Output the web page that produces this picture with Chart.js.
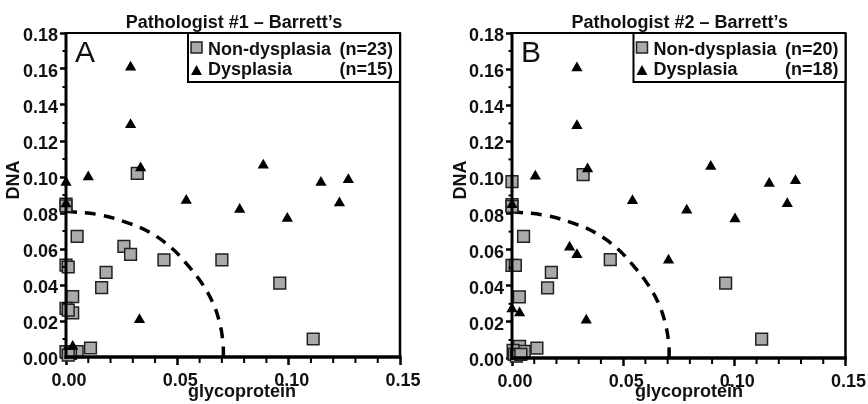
<!DOCTYPE html>
<html><head><meta charset="utf-8">
<script src="https://cdn.jsdelivr.net/npm/chart.js@4.4.1/dist/chart.umd.min.js"></script>
<style>
html,body{margin:0;padding:0;background:#fff;}
#wrap{position:relative;width:868px;height:404px;background:#fff;}
canvas{position:absolute;top:0;}
#cA{left:0;} #cB{left:434px;}
</style></head><body>
<div id="wrap"><canvas id="cA" width="434" height="404"></canvas><canvas id="cB" width="434" height="404"></canvas></div>
<script>
// ---- tick labels ----
const xTickValues = [0, 0.05, 0.10, 0.15];
const yTickValues = [0, 0.02, 0.04, 0.06, 0.08, 0.10, 0.12, 0.14, 0.16, 0.18];
const xMinorTicks = [0.01, 0.02, 0.03, 0.04, 0.06, 0.07, 0.08, 0.09, 0.11, 0.12, 0.13, 0.14];
const yMinorTicks = [0.01, 0.03, 0.05, 0.07, 0.09, 0.11, 0.13, 0.15, 0.17];

// ---- text ----
const titleA = "Pathologist #1 – Barrett’s";
const titleB = "Pathologist #2 – Barrett’s";
const xAxisTitle = "glycoprotein";
const yAxisTitle = "DNA";
const seriesNames = ["Non-dysplasia", "Dysplasia"];
const countsA = ["(n=23)", "(n=15)"];
const countsB = ["(n=20)", "(n=18)"];

// ---- Panel A data ----
const nonDysA_x = [0.000, 0.032, 0.005, 0.026, 0.029, 0.044, 0.070, 0.000, 0.018, 0.016, 0.096, 0.003, 0.000, 0.003, 0.111, 0.011, 0.000, 0.005, 0.001, 0.002, 0.001, 0.001, 0.000];
const nonDysA_y = [0.085, 0.102, 0.067, 0.0615, 0.057, 0.054, 0.054, 0.051, 0.047, 0.0385, 0.041, 0.0335, 0.027, 0.0245, 0.010, 0.005, 0.003, 0.003, 0.050, 0.002, 0.026, 0.001, 0.084];
const dysA_x = [0.029, 0.029, 0.0335, 0.010, 0.000, 0.000, 0.054, 0.078, 0.0886, 0.0994, 0.1145, 0.1268, 0.1228, 0.033, 0.003];
const dysA_y = [0.161, 0.129, 0.105, 0.100, 0.097, 0.085, 0.087, 0.082, 0.1065, 0.077, 0.097, 0.0985, 0.0856, 0.0207, 0.0059];

// ---- Panel B data ----
const nonDysB_x = [0.000, 0.000, 0.032, 0.0052, 0.0442, 0.000, 0.0015, 0.0177, 0.016, 0.0961, 0.0033, 0.1123, 0.0034, 0.0112, 0.0055, 0.0005, 0.001, 0.002, 0.000, 0.004];
const nonDysB_y = [0.0977, 0.085, 0.1015, 0.0674, 0.0545, 0.0513, 0.0513, 0.0474, 0.0388, 0.0415, 0.0338, 0.0105, 0.0065, 0.0055, 0.0037, 0.0042, 0.002, 0.001, 0.084, 0.002];
const dysB_x = [0.0292, 0.0292, 0.034, 0.0105, 0.000, 0.0542, 0.0786, 0.0894, 0.1003, 0.1157, 0.1275, 0.1238, 0.0259, 0.0292, 0.0704, 0.0334, 0.000, 0.0034];
const dysB_y = [0.1606, 0.1287, 0.1047, 0.1006, 0.0849, 0.0871, 0.0818, 0.1061, 0.077, 0.0967, 0.0982, 0.0855, 0.0613, 0.0572, 0.0541, 0.0209, 0.0271, 0.0249];

// ---- dashed boundary ----
const boundary_x = [0.000, 0.015, 0.029, 0.038, 0.047, 0.054, 0.061, 0.066, 0.069, 0.0705, 0.0707];
const boundary_y = [0.081, 0.079, 0.074, 0.069, 0.061, 0.052, 0.041, 0.030, 0.019, 0.008, 0.000];

const FONT = "'Liberation Sans', Arial, Helvetica, sans-serif";
const zip = (xs, ys) => xs.map((x, i) => ({x: x, y: ys[i]}));

function makePanel(canvasId, p) {
  const overlay = {
    id: 'overlay' + canvasId,
    afterDraw(chart) {
      const ctx = chart.ctx, a = chart.chartArea;
      const xs = chart.scales.x, ys = chart.scales.y;
      ctx.save();
      ctx.strokeStyle = '#000';
      // minor ticks
      ctx.lineWidth = 2;
      yMinorTicks.forEach(v => {
        const py = ys.getPixelForValue(v);
        ctx.beginPath(); ctx.moveTo(a.left - 3.5, py); ctx.lineTo(a.left, py); ctx.stroke();
      });
      xMinorTicks.forEach(v => {
        const px = xs.getPixelForValue(v);
        ctx.beginPath(); ctx.moveTo(px, a.bottom); ctx.lineTo(px, a.bottom + 6); ctx.stroke();
      });
      // frame
      ctx.lineWidth = 3;
      ctx.beginPath(); ctx.moveTo(a.left, a.top - 1); ctx.lineTo(a.left, a.bottom + 2); ctx.stroke();
      ctx.lineWidth = 3.5;
      ctx.beginPath(); ctx.moveTo(a.left - 1.5, a.bottom); ctx.lineTo(a.right + 1.5, a.bottom); ctx.stroke();
      ctx.lineWidth = 2;
      ctx.beginPath(); ctx.moveTo(a.left, a.top); ctx.lineTo(a.right, a.top); ctx.stroke();
      ctx.lineWidth = 2.5;
      ctx.beginPath(); ctx.moveTo(a.right, a.top); ctx.lineTo(a.right, a.bottom); ctx.stroke();

      // legend box
      const lw = 212, lh = 49, x0 = a.right - lw, y0 = a.top;
      ctx.fillStyle = '#fff';
      ctx.fillRect(x0, y0, lw, lh);
      ctx.lineWidth = 2;
      ctx.strokeRect(x0, y0, lw, lh);
      // square marker
      ctx.fillStyle = '#aaaaaa'; ctx.strokeStyle = '#222'; ctx.lineWidth = 1.5;
      ctx.fillRect(x0 + 3, y0 + 9, 11, 11); ctx.strokeRect(x0 + 3, y0 + 9, 11, 11);
      // triangle marker
      ctx.fillStyle = '#000';
      ctx.beginPath(); ctx.moveTo(x0 + 8.5, y0 + 32); ctx.lineTo(x0 + 14, y0 + 42); ctx.lineTo(x0 + 3, y0 + 42); ctx.closePath(); ctx.fill();
      ctx.fillStyle = '#111';
      ctx.font = 'bold 18px ' + FONT;
      ctx.textBaseline = 'alphabetic';
      ctx.textAlign = 'left';
      ctx.fillText(seriesNames[0], x0 + 20, y0 + 22);
      ctx.fillText(seriesNames[1], x0 + 20, y0 + 42);
      ctx.textAlign = 'right';
      ctx.fillText(p.counts[0], x0 + 205, y0 + 22);
      ctx.fillText(p.counts[1], x0 + 205, y0 + 42);

      // panel letter
      ctx.textAlign = 'left';
      ctx.font = '30px ' + FONT;
      ctx.fillText(p.letter, a.left + 9, a.top + 29);

      // title
      ctx.font = 'bold 18px ' + FONT;
      ctx.textAlign = 'center';
      ctx.fillText(p.title, (a.left + a.right) / 2 + 1, 28);

      // x axis title
      ctx.fillText(xAxisTitle, p.glyX, 397);

      // y axis title
      ctx.save();
      ctx.translate(p.dnaX, 180);
      ctx.rotate(-Math.PI / 2);
      ctx.textBaseline = 'middle';
      ctx.fillText(yAxisTitle, 0, 0);
      ctx.restore();
      ctx.restore();
    }
  };

  return new Chart(document.getElementById(canvasId), {
    type: 'scatter',
    data: {
      datasets: [
        {
          label: seriesNames[1],
          data: zip(p.dys_x, p.dys_y),
          pointStyle: 'triangle', pointRadius: 6.5, pointHoverRadius: 6.5,
          backgroundColor: '#000', borderColor: '#000', borderWidth: 0,
          clip: false, order: 0
        },
        {
          label: seriesNames[0],
          data: zip(p.non_x, p.non_y),
          pointStyle: 'rect', pointRadius: 8.3, pointHoverRadius: 8.3,
          backgroundColor: '#aaaaaa', borderColor: '#222', borderWidth: 1.5,
          clip: false, order: 1
        },
        {
          label: 'boundary',
          data: zip(boundary_x, boundary_y),
          showLine: true, pointRadius: 0, borderColor: '#000', borderWidth: 3.5,
          borderDash: [11, 8], tension: 0.4, fill: false, clip: false, order: 2
        }
      ]
    },
    options: {
      responsive: false,
      animation: false,
      events: [],
      layout: { padding: { left: 0, right: p.rightPad, top: 33, bottom: 0 } },
      plugins: { legend: { display: false }, tooltip: { enabled: false }, title: { display: false } },
      scales: {
        x: {
          type: 'linear', min: 0, max: 0.15, position: 'bottom',
          afterBuildTicks: s => { s.ticks = xTickValues.map(v => ({value: v})); },
          afterFit: s => { s.height = p.xAxisH; },
          ticks: {
            callback: v => Number(v).toFixed(2),
            font: { family: FONT, size: 18, weight: 'bold' }, color: '#111',
            padding: 5, labelOffset: 3, maxRotation: 0, autoSkip: false
          },
          grid: { drawOnChartArea: false, drawTicks: true, tickLength: 8, tickWidth: 2.5, tickColor: '#000' },
          border: { display: false }
        },
        y: {
          type: 'linear', min: 0, max: 0.18, position: 'left',
          afterBuildTicks: s => { s.ticks = yTickValues.map(v => ({value: v})); },
          afterFit: s => { s.width = p.yAxisW; },
          ticks: {
            callback: v => Number(v).toFixed(2),
            font: { family: FONT, size: 18, weight: 'bold' }, color: '#111',
            padding: 2, labelOffset: 3, autoSkip: false
          },
          grid: { drawOnChartArea: false, drawTicks: true, tickLength: 6, tickWidth: 2.5, tickColor: '#000' },
          border: { display: false }
        }
      }
    },
    plugins: [overlay]
  });
}

makePanel('cA', {
  letter: 'A', title: titleA, counts: countsA,
  non_x: nonDysA_x, non_y: nonDysA_y, dys_x: dysA_x, dys_y: dysA_y,
  yAxisW: 66, rightPad: 34, xAxisH: 47, dnaX: 14, glyX: 242
});
makePanel('cB', {
  letter: 'B', title: titleB, counts: countsB,
  non_x: nonDysB_x, non_y: nonDysB_y, dys_x: dysB_x, dys_y: dysB_y,
  yAxisW: 78, rightPad: 22, xAxisH: 46, dnaX: 27, glyX: 255
});
</script>
</body></html>
